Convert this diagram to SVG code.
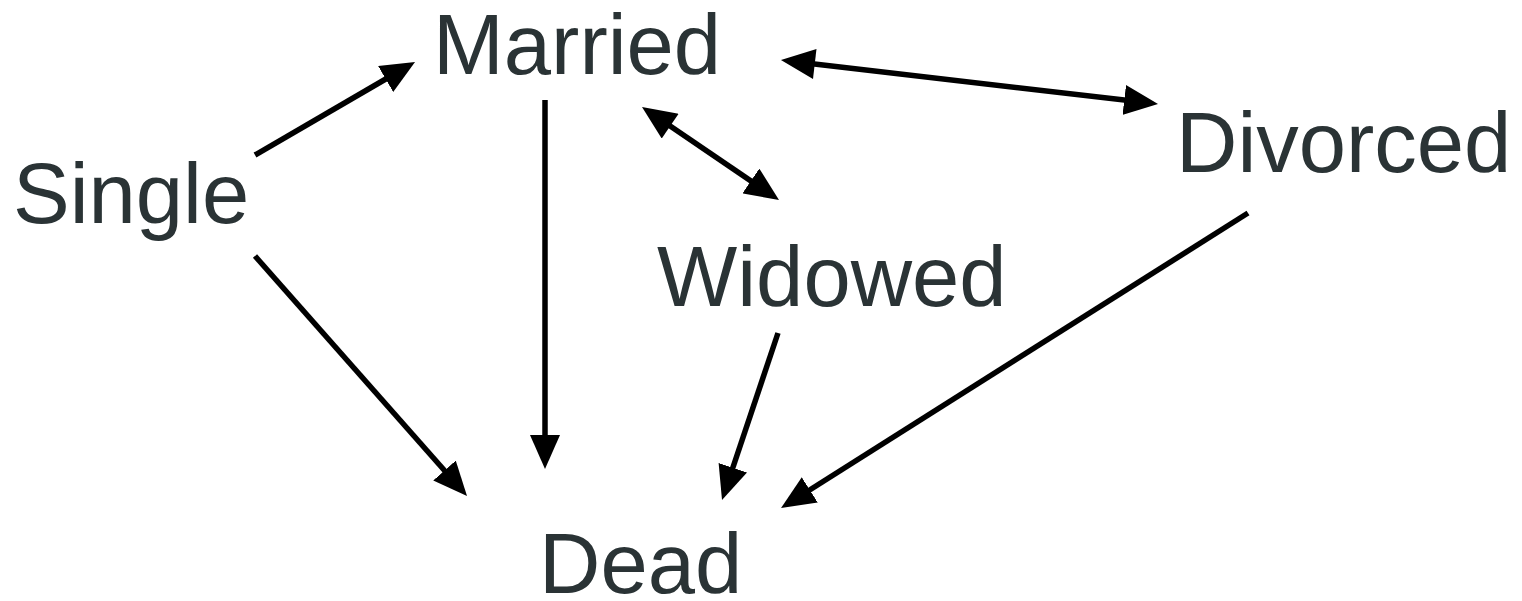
<svg xmlns="http://www.w3.org/2000/svg" width="1522" height="601" viewBox="0 0 1522 601">
<style>
.lbl{font-family:"Liberation Sans",Arial,sans-serif;font-size:85px;fill:#2a3335}
.c{stroke:#000;stroke-width:5.5;fill:none;marker-end:url(#ah)}
.b{marker-start:url(#as)}
</style>
<defs>
<marker id="ah" markerUnits="userSpaceOnUse" markerWidth="36" markerHeight="30" refX="24" refY="15" orient="auto"><path d="M0,0 L34,15 L0,30 Z" fill="#000"/></marker>
<marker id="as" markerUnits="userSpaceOnUse" markerWidth="36" markerHeight="30" refX="10" refY="15" orient="auto"><path d="M34,0 L0,15 L34,30 Z" fill="#000"/></marker>
</defs>
<rect width="1522" height="601" fill="#fff"/>
<g id="single"><text class="lbl" x="13" y="223">Single</text></g>
<g id="married"><text class="lbl" x="433" y="74">Married</text></g>
<g id="divorced"><text class="lbl" x="1176" y="172">Divorced</text></g>
<g id="widowed"><text class="lbl" x="657" y="306">Widowed</text></g>
<g id="dead"><text class="lbl" x="539" y="593">Dead</text></g>
<g id="connectors">
<line class="c" x1="255" y1="155" x2="406.4" y2="67"/>
<line class="c" x1="255" y1="256" x2="460.4" y2="488.5"/>
<line class="c" x1="545" y1="100" x2="545" y2="459"/>
<line class="c b" x1="650.3" y1="112.6" x2="770.7" y2="194.4"/>
<line class="c b" x1="790.9" y1="61.2" x2="1148.1" y2="102.8"/>
<line class="c" x1="778" y1="333" x2="725.2" y2="490.5"/>
<line class="c" x1="1248" y1="213" x2="789.5" y2="502.7"/>
</g>
</svg>
